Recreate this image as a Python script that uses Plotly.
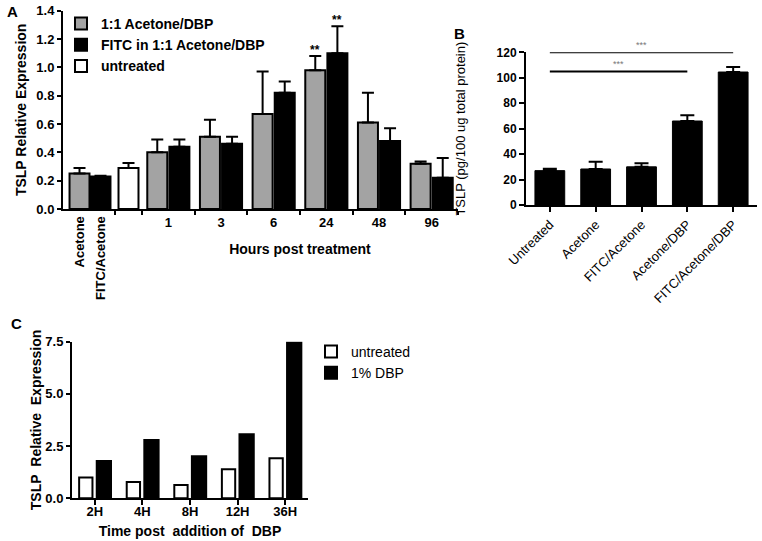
import plotly.graph_objects as go

# ---------------- Panel A data ----------------
ctrl_labels = ["Acetone", "FITC/Acetone"]
ctrl_values = [0.25, 0.23]
ctrl_err = [0.04, 0.005]
untreated_label = ["untreated"]
untreated_value = [0.29]
untreated_err = [0.035]
hours = ["1", "3", "6", "24", "48", "96"]
dbp_values = [0.40, 0.51, 0.67, 0.98, 0.61, 0.32]
dbp_err = [0.09, 0.12, 0.30, 0.10, 0.21, 0.015]
fitc_values = [0.44, 0.46, 0.82, 1.10, 0.48, 0.22]
fitc_err = [0.05, 0.05, 0.08, 0.19, 0.09, 0.14]
sig_hours = ["24"]

# ---------------- Panel B data ----------------
b_groups = ["Untreated", "Acetone", "FITC/Acetone", "Acetone/DBP", "FITC/Acetone/DBP"]
b_values = [27.0, 28.3, 30.0, 66.0, 104.5]
b_err = [1.5, 5.7, 2.8, 4.5, 4.0]
b_comparisons = [("Untreated", "FITC/Acetone/DBP", 120), ("Untreated", "Acetone/DBP", 105)]

# ---------------- Panel C data ----------------
c_times = ["2H", "4H", "8H", "12H", "36H"]
c_untreated = [1.0, 0.78, 0.64, 1.39, 1.92]
c_dbp = [1.79, 2.79, 2.01, 3.07, 7.47]

FONT = "Arial, 'Liberation Sans', sans-serif"
GRAY = "#a3a3a3"
W, H = 762, 541


def px_x(a, b):
    return [a / W, b / W]


def px_y(top, bottom):
    return [1 - bottom / H, 1 - top / H]


def bold(size):
    return dict(family=FONT, size=size, color="black", weight="bold")


def reg(size, color="black"):
    return dict(family=FONT, size=size, color=color)


def up_err(vals, width, thick=2):
    return dict(type="data", symmetric=False, array=vals, arrayminus=[0] * len(vals),
                color="black", thickness=thick, width=width)


fig = go.Figure()

# Panel A traces
fig.add_trace(go.Bar(x=[ctrl_labels[0]], y=[ctrl_values[0]], error_y=up_err([ctrl_err[0]], 6),
                     marker=dict(color=GRAY, line=dict(color="black", width=2)), width=0.95,
                     xaxis="x", yaxis="y", showlegend=False, legendgroup="g"))
fig.add_trace(go.Bar(x=[ctrl_labels[1]], y=[ctrl_values[1]], error_y=up_err([ctrl_err[1]], 6),
                     marker=dict(color="black", line=dict(color="black", width=2)), width=0.95,
                     xaxis="x", yaxis="y", showlegend=False, legendgroup="b"))
fig.add_trace(go.Bar(x=hours, y=dbp_values, error_y=up_err(dbp_err, 6), name="1:1 Acetone/DBP",
                     marker=dict(color=GRAY, line=dict(color="black", width=2)),
                     width=0.38, offset=-0.4, xaxis="x3", yaxis="y", legendgroup="g"))
fig.add_trace(go.Bar(x=hours, y=fitc_values, error_y=up_err(fitc_err, 6), name="FITC in 1:1 Acetone/DBP",
                     marker=dict(color="black", line=dict(color="black", width=2)),
                     width=0.38, offset=0.02, xaxis="x3", yaxis="y", legendgroup="b"))
fig.add_trace(go.Bar(x=untreated_label, y=untreated_value, error_y=up_err(untreated_err, 6), name="untreated",
                     marker=dict(color="white", line=dict(color="black", width=2)),
                     width=0.74, xaxis="x2", yaxis="y", legendgroup="w"))

# Panel B traces
fig.add_trace(go.Bar(x=b_groups, y=b_values, error_y=up_err(b_err, 7),
                     marker=dict(color="black", line=dict(color="black", width=1)),
                     width=0.65, xaxis="x4", yaxis="y4", showlegend=False))
for a, b, lvl in b_comparisons:
    fig.add_trace(go.Scatter(x=[a, b], y=[lvl, lvl], mode="lines", line=dict(color="black", width=2),
                             xaxis="x4", yaxis="y4", showlegend=False, cliponaxis=False, hoverinfo="skip"))

# Panel C traces
fig.add_trace(go.Bar(x=c_times, y=c_untreated, name="untreated",
                     marker=dict(color="white", line=dict(color="black", width=2)),
                     width=0.28, offset=-0.33, xaxis="x5", yaxis="y5", legend="legend2"))
fig.add_trace(go.Bar(x=c_times, y=c_dbp, name="1% DBP",
                     marker=dict(color="black", line=dict(color="black", width=2)),
                     width=0.30, offset=0.04, xaxis="x5", yaxis="y5", legend="legend2"))

axis_common = dict(showline=True, linecolor="black", linewidth=2, showgrid=False, zeroline=False,
                   tickcolor="black", tickwidth=2, automargin=False)

annotations = []
# ** above 24 h bars
for h in sig_hours:
    i = hours.index(h)
    annotations.append(dict(x=i - 0.21, y=dbp_values[i] + dbp_err[i], xref="x3", yref="y", text="**",
                            showarrow=False, yanchor="bottom", yshift=-3, font=bold(12)))
    annotations.append(dict(x=i + 0.21, y=fitc_values[i] + fitc_err[i], xref="x3", yref="y", text="**",
                            showarrow=False, yanchor="bottom", yshift=-3, font=bold(12)))
# *** in panel B
for a, b, lvl in b_comparisons:
    mid = (b_groups.index(a) + b_groups.index(b)) / 2
    annotations.append(dict(x=mid, y=lvl, xref="x4", yref="y4", text="***", showarrow=False,
                            yanchor="bottom", yshift=0, font=reg(9, "#777777")))
# panel letters
for letter, (lx, ly) in {"A": (12, 12), "B": (459, 33), "C": (16, 323)}.items():
    annotations.append(dict(x=lx / W, y=1 - ly / H, xref="paper", yref="paper", text=letter,
                            showarrow=False, xanchor="center", yanchor="middle", font=bold(15)))

fig.update_layout(
    width=W, height=H, margin=dict(l=0, r=0, t=0, b=0, autoexpand=False),
    paper_bgcolor="white", plot_bgcolor="white", barmode="overlay",
    font=dict(family=FONT, color="black"),
    # Panel A axes
    xaxis=dict(axis_common, domain=px_x(63, 115), type="category", categoryorder="array",
               categoryarray=ctrl_labels, range=[-0.786, 1.69], ticks="", tickangle=-90,
               tickfont=bold(13), anchor="y"),
    xaxis2=dict(axis_common, domain=px_x(115, 142), type="category", range=[-0.5, 0.5],
                ticks="outside", ticklen=4, tickson="boundaries", showticklabels=False, anchor="y"),
    xaxis3=dict(axis_common, domain=px_x(142, 458), type="category", categoryorder="array",
                categoryarray=hours, range=[-0.5, 5.5], ticks="outside", ticklen=4, tickson="boundaries",
                tickfont=bold(13), anchor="y",
                title=dict(text="Hours post treatment", font=bold(14), standoff=16)),
    yaxis=dict(axis_common, domain=px_y(10.7, 209), range=[0, 1.4], dtick=0.2, tickformat=".1f",
               ticks="outside", ticklen=4, tickfont=bold(13), anchor="x",
               title=dict(text="TSLP Relative Expression", font=bold(14), standoff=6)),
    # Panel B axes
    xaxis4=dict(axis_common, domain=px_x(526, 757), type="category", categoryorder="array",
                categoryarray=b_groups, range=[-0.52, 4.52], ticks="outside", ticklen=5,
                tickangle=-45, tickfont=reg(13), anchor="y4"),
    yaxis4=dict(axis_common, domain=px_y(52.3, 205), range=[0, 120], dtick=20,
                ticks="outside", ticklen=5, tickfont=bold(12), anchor="x4",
                title=dict(text="TSLP (pg/100 ug total protein)", font=reg(13), standoff=28)),
    # Panel C axes
    xaxis5=dict(axis_common, domain=px_x(72, 308), type="category", categoryorder="array",
                categoryarray=c_times, range=[-0.48, 4.48], ticks="outside", ticklen=5,
                ticklabelstandoff=-5, tickfont=bold(13), anchor="y5",
                title=dict(text="Time post\u00a0 addition of\u00a0 DBP", font=bold(14), standoff=8)),
    yaxis5=dict(axis_common, domain=px_y(341.7, 498.3), range=[0, 7.5], dtick=2.5, tickformat=".1f",
                ticks="outside", ticklen=4, tickfont=bold(13), anchor="x5",
                title=dict(text="TSLP\u00a0 Relative\u00a0 Expression", font=bold(14), standoff=0)),
    legend=dict(x=61 / W, y=1 - 8 / H, xanchor="left", yanchor="top", font=bold(14),
                bgcolor="rgba(0,0,0,0)", tracegroupgap=3, traceorder="normal"),
    legend2=dict(x=311 / W, y=1 - 336 / H, xanchor="left", yanchor="top", font=reg(14),
                 bgcolor="rgba(0,0,0,0)", traceorder="normal"),
    annotations=annotations,
)

fig.write_html("out.html", config={"displayModeBar": False},
               post_script="document.body.style.margin='0';")
